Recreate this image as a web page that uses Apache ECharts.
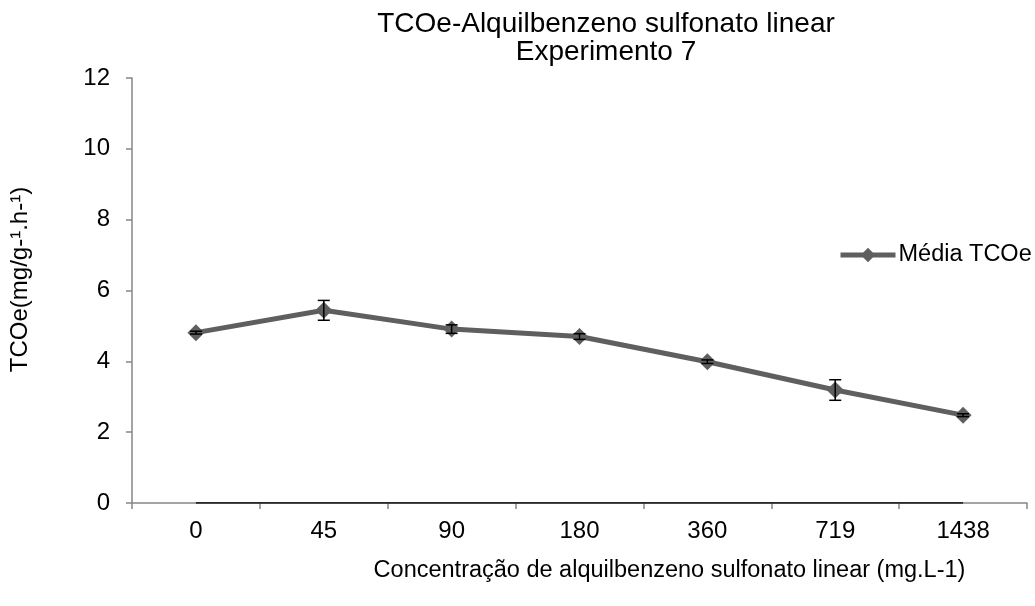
<!DOCTYPE html>
<html>
<head>
<meta charset="utf-8">
<script src="https://cdn.jsdelivr.net/npm/echarts@6/dist/echarts.min.js"></script>
<style>
  html, body { margin: 0; padding: 0; background: #fff; }
  #chart { width: 1035px; height: 606px; }
</style>
</head>
<body>
<div id="chart"></div>
<script>
// data
var categories = ['0', '45', '90', '180', '360', '719', '1438'];
var mediaTCOe = [4.81, 5.44, 4.91, 4.70, 3.99, 3.19, 2.48];
var desvio = [0.04, 0.28, 0.12, 0.08, 0.05, 0.29, 0.04];
var baseLine = [0, 0, 0, 0, 0, 0, 0];

var fontFam = 'Liberation Sans, Arial, sans-serif';

// error bar rows: [index, low, high]
var errRows = mediaTCOe.map(function (v, i) {
    return [i, v - desvio[i], v + desvio[i]];
});

function renderErr(params, api) {
    var i = api.value(0);
    var lo = api.coord([i, api.value(1)]);
    var hi = api.coord([i, api.value(2)]);
    var half = 6;
    var st = { stroke: '#000', lineWidth: 1.5 };
    return {
        type: 'group',
        children: [
            { type: 'line', shape: { x1: hi[0], y1: hi[1], x2: lo[0], y2: lo[1] }, style: st },
            { type: 'line', shape: { x1: hi[0] - half, y1: hi[1], x2: hi[0] + half, y2: hi[1] }, style: st },
            { type: 'line', shape: { x1: lo[0] - half, y1: lo[1], x2: lo[0] + half, y2: lo[1] }, style: st }
        ]
    };
}

var chart = echarts.init(document.getElementById('chart'));
chart.setOption({
    backgroundColor: '#fff',
    animation: false,
    textStyle: { fontFamily: fontFam },
    title: {
        text: 'TCOe-Alquilbenzeno sulfonato linear\nExperimento 7',
        left: 601,
        top: 5,
        textAlign: 'center',
        textStyle: { fontSize: 28, fontWeight: 'normal', color: '#000', lineHeight: 28, fontFamily: fontFam }
    },
    legend: {
        data: ['Média TCOe'],
        left: 833,
        top: 238,
        itemWidth: 55,
        itemHeight: 18,
        itemGap: 4,
        lineStyle: { width: 5, color: '#5f5f5f' },
        textStyle: { fontSize: 23.5, color: '#000', fontFamily: fontFam, padding: [0, 0, 0, -2] }
    },
    grid: { left: 131, right: 8, top: 78, bottom: 103, containLabel: false },
    xAxis: {
        type: 'category',
        data: categories,
        boundaryGap: true,
        name: 'Concentração de alquilbenzeno sulfonato linear (mg.L-1)',
        nameLocation: 'middle',
        nameGap: 56,
        nameTextStyle: { fontSize: 23.5, color: '#000', padding: [0, 0, 0, 180] },
        axisLine: { lineStyle: { color: '#868686', width: 1.5 } },
        axisTick: { show: true, alignWithLabel: false, length: 6, lineStyle: { color: '#868686', width: 1.5 } },
        axisLabel: { fontSize: 24, color: '#000', margin: 16 },
        splitLine: { show: false }
    },
    yAxis: {
        type: 'value',
        min: 0,
        max: 12,
        interval: 2,
        name: 'TCOe(mg/g-¹.h-¹)',
        nameLocation: 'middle',
        nameRotate: 90,
        nameGap: 100,
        nameTextStyle: { fontSize: 24, color: '#000', padding: [0, 0, 0, 22] },
        axisLine: { show: true, lineStyle: { color: '#868686', width: 1.5 } },
        axisTick: { show: true, length: 6, lineStyle: { color: '#868686', width: 1.5 } },
        axisLabel: { fontSize: 24, color: '#000', margin: 22 },
        splitLine: { show: false }
    },
    series: [
        {
            name: 'base',
            type: 'line',
            data: baseLine,
            symbol: 'none',
            silent: true,
            lineStyle: { color: '#000', width: 1.5 },
            z: 1
        },
        {
            name: 'Média TCOe',
            type: 'line',
            data: mediaTCOe,
            symbol: 'diamond',
            symbolSize: 17,
            itemStyle: { color: '#5f5f5f' },
            lineStyle: { color: '#5f5f5f', width: 5 },
            z: 3
        },
        {
            name: 'erro',
            type: 'custom',
            data: errRows,
            renderItem: renderErr,
            silent: true,
            z: 4
        }
    ]
});
</script>
</body>
</html>
